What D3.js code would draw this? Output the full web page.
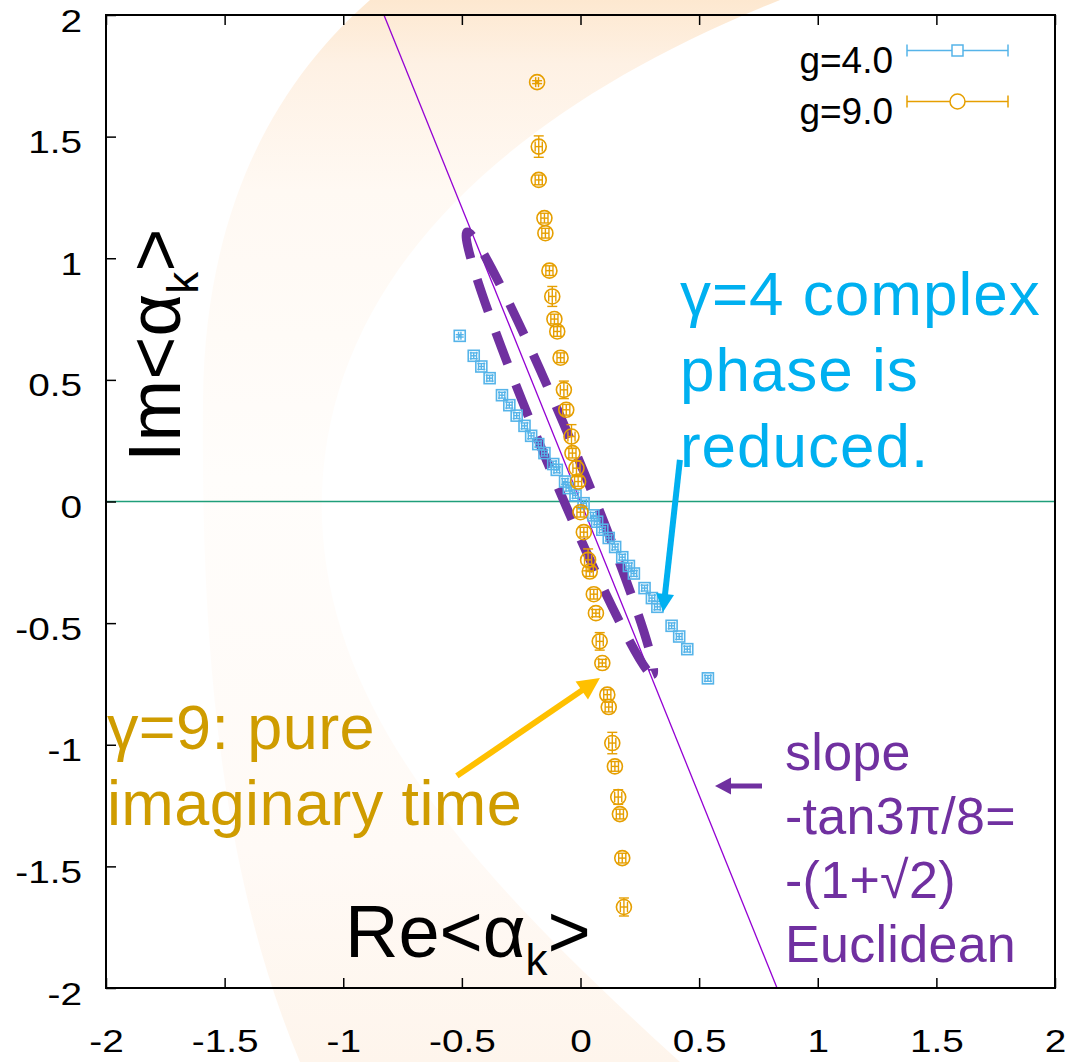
<!DOCTYPE html>
<html><head><meta charset="utf-8">
<script src="https://cdn.jsdelivr.net/npm/d3@7"></script>
<style>
body{margin:0;background:#fff}
svg{display:block}
text{font-family:"Liberation Sans",Arial,Helvetica,sans-serif}
</style>
</head><body>
<svg id="c" width="1072" height="1062"></svg>
<script>
// ---------------- data ----------------
const xTicks = [-2,-1.5,-1,-0.5,0,0.5,1,1.5,2];
const yTicks = [-2,-1.5,-1,-0.5,0,0.5,1,1.5,2];
const seriesNames = ["g=4.0","g=9.0"];

// g=4.0 (blue squares)
const g4Re = [-0.509,-0.450,-0.418,-0.383,-0.331,-0.300,-0.269,-0.236,-0.208,-0.178,-0.152,-0.115,-0.100,-0.065,-0.049,-0.021,0.013,0.054,0.070,0.092,0.119,0.146,0.176,0.204,0.225,0.270,0.301,0.324,0.384,0.416,0.450,0.537];
const g4Im = [0.681,0.599,0.555,0.507,0.437,0.396,0.353,0.311,0.270,0.236,0.199,0.154,0.130,0.082,0.055,0.025,-0.007,-0.057,-0.083,-0.116,-0.150,-0.187,-0.229,-0.265,-0.296,-0.356,-0.397,-0.433,-0.511,-0.555,-0.607,-0.727];
const g4ReErr = [0.005,0.012,0.012,0.012,0.012,0.012,0.012,0.012,0.012,0.012,0.012,0.012,0.012,0.012,0.012,0.012,0.012,0.012,0.012,0.012,0.012,0.012,0.012,0.012,0.012,0.012,0.012,0.012,0.012,0.012,0.012,0.012];
const g4ImErr = [0.005,0.012,0.012,0.012,0.012,0.012,0.012,0.012,0.012,0.012,0.012,0.012,0.012,0.012,0.012,0.012,0.012,0.012,0.012,0.012,0.012,0.012,0.012,0.012,0.012,0.012,0.012,0.012,0.012,0.012,0.012,0.012];

// g=9.0 (orange circles)
const g9Re = [-0.183,-0.176,-0.176,-0.152,-0.148,-0.131,-0.119,-0.110,-0.098,-0.084,-0.070,-0.060,-0.038,-0.034,-0.017,-0.010,0.000,0.014,0.032,0.039,0.056,0.065,0.081,0.092,0.113,0.119,0.134,0.145,0.159,0.166,0.176,0.183];
const g9Im = [1.724,1.459,1.322,1.165,1.103,0.949,0.843,0.750,0.699,0.591,0.459,0.377,0.267,0.199,0.137,0.082,-0.044,-0.126,-0.240,-0.288,-0.381,-0.459,-0.575,-0.664,-0.794,-0.845,-0.993,-1.089,-1.215,-1.285,-1.466,-1.667];
const g9ReErr = [0.006,0.015,0.015,0.015,0.015,0.015,0.015,0.015,0.015,0.015,0.015,0.015,0.015,0.015,0.015,0.015,0.015,0.015,0.015,0.015,0.015,0.015,0.015,0.015,0.015,0.015,0.015,0.015,0.015,0.015,0.015,0.015];
const g9ImErr = [0.006,0.044,0.020,0.020,0.020,0.020,0.041,0.020,0.020,0.020,0.036,0.022,0.049,0.020,0.030,0.020,0.020,0.020,0.045,0.020,0.020,0.015,0.036,0.015,0.020,0.020,0.044,0.020,0.030,0.020,0.020,0.037];

// reference line: slope -tan(3pi/8) = -(1+sqrt2)
const euclidSlope = -(1 + Math.SQRT2);
// hand-drawn dashed loop (data coords of its two ends)
const loopEnds = [[-0.478, 1.108], [0.304, -0.712]];

// annotations
const noteBlue = ["γ=4 complex", "phase is", "reduced."];
const noteGold = ["γ=9: pure", "imaginary time"];
const notePurple = ["slope", "-tan3π/8=", "-(1+√2)", "Euclidean"];
const arrowBlue = [[0.419, 0.171], [0.348, -0.454]];
const arrowGold = [[-0.521, -1.128], [0.082, -0.726]];
const arrowPurple = [[0.765, -1.170], [0.567, -1.170]];

// ---------------- chart ----------------
const svg = d3.select("#c");
const W = 1072, H = 1062;
const m = {l:106, r:1055, t:15, b:988};
const x = d3.scaleLinear().domain([-2,2]).range([m.l, m.r]);
const y = d3.scaleLinear().domain([-2,2]).range([m.b, m.t]);

svg.append("rect").attr("width",W).attr("height",H).attr("fill","#fff");

// decorative slide background crescent (very faint)
const defs = svg.append("defs");
const gr = defs.append("linearGradient").attr("id","bgG").attr("x1",0).attr("y1",0).attr("x2",0).attr("y2",1);
[[0,"#fde8d0"],[0.06,"#fef1e4"],[0.18,"#fff9f3"],[0.45,"#fffdfb"],[0.8,"#fffaf6"],[1,"#fef5ec"]].forEach(s=>gr.append("stop").attr("offset",s[0]).attr("stop-color",s[1]));
svg.append("path")
  .attr("d","M370,0 C290,70 205,190 203,400 C201,620 215,860 300,1062 L680,1062 C480,880 330,720 322,520 C315,300 480,120 780,0 Z")
  .attr("fill","url(#bgG)");

defs.append("clipPath").attr("id","plotClip").append("rect")
  .attr("x",m.l).attr("y",m.t).attr("width",m.r-m.l).attr("height",m.b-m.t);

const plot = svg.append("g").attr("clip-path","url(#plotClip)");

// zero line
const line = d3.line().x(d=>x(d[0])).y(d=>y(d[1]));
plot.append("path").attr("d", line([[-2,0],[2,0]]))
  .attr("stroke","#1f9e7a").attr("stroke-width",1.6).attr("fill","none");

// Euclidean slope line
plot.append("path").attr("d", line([[2/euclidSlope, 2],[-2/euclidSlope, -2]]))
  .attr("stroke","#9400d3").attr("stroke-width",1.3).attr("fill","none");

// dashed loop
{
  const p0 = [x(loopEnds[0][0]), y(loopEnds[0][1])];
  const p1 = [x(loopEnds[1][0]), y(loopEnds[1][1])];
  const cx = (p0[0]+p1[0])/2, cy = (p0[1]+p1[1])/2;
  const rx = Math.hypot(p1[0]-p0[0], p1[1]-p0[1]) / 2;
  const ang = Math.atan2(p1[1]-p0[1], p1[0]-p0[0]) * 180/Math.PI;
  plot.append("ellipse").attr("cx",0).attr("cy",0).attr("rx",rx).attr("ry",15)
    .attr("transform",`translate(${cx},${cy}) rotate(${ang})`)
    .attr("fill","none").attr("stroke","#7030a0").attr("stroke-width",9)
    .attr("stroke-dasharray","34,22").attr("stroke-dashoffset",-8);
}

// error bars + markers
function errorBars(g, re, im, reErr, imErr, color, cap) {
  re.forEach((v,i)=>{
    const px = x(v), py = y(im[i]);
    const y1 = y(im[i]+imErr[i]), y2 = y(im[i]-imErr[i]);
    const x1 = x(v-reErr[i]), x2 = x(v+reErr[i]);
    const eg = g.append("g").attr("stroke",color).attr("stroke-width",1.4).attr("fill","none");
    eg.append("line").attr("x1",px).attr("x2",px).attr("y1",y1).attr("y2",y2);
    eg.append("line").attr("x1",px-cap).attr("x2",px+cap).attr("y1",y1).attr("y2",y1);
    eg.append("line").attr("x1",px-cap).attr("x2",px+cap).attr("y1",y2).attr("y2",y2);
    eg.append("line").attr("x1",x1).attr("x2",x2).attr("y1",py).attr("y2",py);
    eg.append("line").attr("x1",x1).attr("x2",x1).attr("y1",py-cap).attr("y2",py+cap);
    eg.append("line").attr("x1",x2).attr("x2",x2).attr("y1",py-cap).attr("y2",py+cap);
  });
}
const blue = "#56b4e9", orange = "#e69f00";
const gBlue = plot.append("g");
errorBars(gBlue, g4Re, g4Im, g4ReErr, g4ImErr, blue, 4);
gBlue.selectAll("rect.m").data(g4Re).join("rect").attr("class","m")
  .attr("x",(d,i)=>x(d)-5.5).attr("y",(d,i)=>y(g4Im[i])-5.5).attr("width",11).attr("height",11)
  .attr("fill","none").attr("stroke",blue).attr("stroke-width",1.6);

const gOr = plot.append("g");
errorBars(gOr, g9Re, g9Im, g9ReErr, g9ImErr, orange, 5);
gOr.selectAll("circle.m").data(g9Re).join("circle").attr("class","m")
  .attr("cx",d=>x(d)).attr("cy",(d,i)=>y(g9Im[i])).attr("r",7.5)
  .attr("fill","none").attr("stroke",orange).attr("stroke-width",1.6);

// axes
const fs = 31, stretch = 1.25;
const fmt = d => String(d);
const ax = svg.append("g").attr("transform",`translate(0,${m.b})`)
  .call(d3.axisBottom(x).tickValues(xTicks).tickSizeInner(-10).tickSizeOuter(0).tickPadding(42).tickFormat(fmt));
const axT = svg.append("g").attr("transform",`translate(0,${m.t})`)
  .call(d3.axisTop(x).tickValues(xTicks).tickSizeInner(-10).tickSizeOuter(0).tickFormat(""));
const ay = svg.append("g").attr("transform",`translate(${m.l},0)`)
  .call(d3.axisLeft(y).tickValues(yTicks).tickSizeInner(-10).tickSizeOuter(0).tickPadding(24/stretch).tickFormat(fmt));
[ax, axT, ay].forEach(a=>{
  a.select(".domain").remove();
  a.selectAll(".tick line").attr("stroke","#000").attr("stroke-width",1.5);
  a.selectAll(".tick text").attr("font-size",fs).attr("fill","#000")
    .attr("font-family",'"Liberation Sans",Arial,sans-serif')
    .attr("transform",`scale(${stretch},1)`);
});
ay.selectAll(".tick text").attr("dy","0.52em");
ax.selectAll(".tick text").attr("dy","0.71em");

// frame
svg.append("rect").attr("x",m.l).attr("y",m.t).attr("width",m.r-m.l).attr("height",m.b-m.t)
  .attr("fill","none").attr("stroke","#000").attr("stroke-width",2);

// legend
const legY = [50.5, 101.5];
const legX0 = 907, legX1 = 1008, legXm = 957.5;
[[blue,"sq"],[orange,"ci"]].forEach((s,i)=>{
  const ly = legY[i];
  const lg = svg.append("g").attr("stroke",s[0]).attr("stroke-width",1.5).attr("fill","none");
  lg.append("line").attr("x1",legX0).attr("x2",legX1).attr("y1",ly).attr("y2",ly);
  lg.append("line").attr("x1",legX0).attr("x2",legX0).attr("y1",ly-6).attr("y2",ly+6);
  lg.append("line").attr("x1",legX1).attr("x2",legX1).attr("y1",ly-6).attr("y2",ly+6);
  if (s[1]==="sq") lg.append("rect").attr("x",legXm-5.5).attr("y",ly-5.5).attr("width",11).attr("height",11).attr("fill","#fff");
  else lg.append("circle").attr("cx",legXm).attr("cy",ly).attr("r",7.5).attr("fill","#fff");
  svg.append("text").attr("x",893).attr("y",ly+22).attr("text-anchor","end")
    .attr("font-size",37).attr("fill","#000").text(seriesNames[i]);
});

// axis titles
{
  const t = svg.append("text").attr("transform","translate(180,462) rotate(-90)")
    .attr("font-size",74).attr("fill","#000");
  t.append("tspan").text("Im<α");
  t.append("tspan").attr("font-size",44).attr("dy",18).text("k");
  t.append("tspan").attr("dy",-18).text(">");
  const b = svg.append("text").attr("x",345).attr("y",957).attr("font-size",74).attr("fill","#000");
  b.append("tspan").text("Re<α");
  b.append("tspan").attr("font-size",44).attr("dy",18).text("k");
  b.append("tspan").attr("dy",-18).text(">");
}

// annotation text
function note(lines, dx, dy, lh, size, color, ls) {
  const t = svg.append("text").attr("font-size",size).attr("fill",color).attr("letter-spacing",ls);
  lines.forEach((s,i)=>t.append("tspan").attr("x",x(dx)).attr("y",y(dy)+i*lh).text(s));
}
note(noteBlue, 0.419, 0.767, 76, 62, "#00b0f0", 1);
note(noteGold, -1.996, -1.017, 76, 63, "#cf9c00", 0.4);
note(notePurple, 0.862, -1.104, 64, 52, "#7030a0", 0.3);

// arrows
function arrow(pts, color, w, hl, hw) {
  const x0 = x(pts[0][0]), y0 = y(pts[0][1]), x1 = x(pts[1][0]), y1 = y(pts[1][1]);
  const L = Math.hypot(x1-x0, y1-y0), ux = (x1-x0)/L, uy = (y1-y0)/L;
  const bx = x1 - ux*hl, by = y1 - uy*hl;
  svg.append("line").attr("x1",x0).attr("y1",y0).attr("x2",bx+ux*2).attr("y2",by+uy*2)
    .attr("stroke",color).attr("stroke-width",w);
  svg.append("path").attr("d",`M${x1},${y1} L${bx - uy*hw/2},${by + ux*hw/2} L${bx + uy*hw/2},${by - ux*hw/2} Z`)
    .attr("fill",color);
}
arrow(arrowBlue, "#00b0f0", 6, 18, 18);
arrow(arrowGold, "#ffc000", 6, 22, 22);
arrow(arrowPurple, "#7030a0", 5, 16, 17);
</script>
</body></html>
